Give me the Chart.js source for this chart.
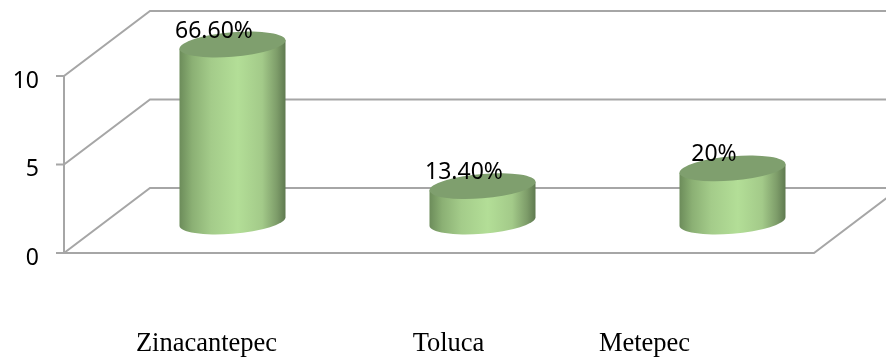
<!DOCTYPE html>
<html>
<head>
<meta charset="utf-8">
<style>
  html, body { margin: 0; padding: 0; background: #fff; }
  #wrap { width: 886px; height: 358px; }
</style>
<script src="https://cdn.jsdelivr.net/npm/chart.js@4"></script>
</head>
<body>
<div id="wrap"><canvas id="chart" width="886" height="358"></canvas></div>
<script>
// Survey responses per municipality
const categories = ['Zinacantepec', 'Toluca', 'Metepec'];
const counts = [10, 2, 3];
const percentLabels = ['66.60%', '13.40%', '20%'];
const yTicks = [0, 5, 10];

// Pseudo-3D projection of the plot box
const DEPTH_X = 86, DEPTH_Y = 65;
const GRID = '#a6a6a6';
const LABEL_SANS = '"Noto Sans", sans-serif';
const CATEGORY_CENTERS = [206.5, 448.5, 644.5];
const CATEGORY_BASELINE = 351;

// Bar drawn as a sheared cylinder standing halfway into the floor
class CylinderElement extends Chart.BarElement {
  draw(ctx) {
    const { x, y, base, width } = this.getProps(['x', 'y', 'base', 'width'], true);
    const a = width / 2, b = 12.2, shear = 0.08;
    const cx = x + DEPTH_X / 2 + 0.5, top = y - DEPTH_Y / 2 + 1, h = base - y;
    ctx.save();
    ctx.transform(1, -shear, 0, 1, cx, top);
    const side = ctx.createLinearGradient(-a, 0, a, 0);
    side.addColorStop(0, '#6c8c5a');
    side.addColorStop(0.12, '#8bb074');
    side.addColorStop(0.3, '#a4cc8a');
    side.addColorStop(0.55, '#b3de97');
    side.addColorStop(0.78, '#a3ca89');
    side.addColorStop(0.92, '#7d9c69');
    side.addColorStop(1, '#5f7a50');
    ctx.beginPath();
    ctx.moveTo(-a, 0);
    ctx.lineTo(-a, h);
    ctx.ellipse(0, h, a, b, 0, Math.PI, 0, true);
    ctx.lineTo(a, 0);
    ctx.closePath();
    ctx.fillStyle = side;
    ctx.fill();
    ctx.beginPath();
    ctx.ellipse(0, 0, a, b, 0, 0, Math.PI * 2);
    ctx.fillStyle = '#7f9f6e';
    ctx.fill();
    ctx.restore();
  }
}
CylinderElement.id = 'cylinder';

class CylinderController extends Chart.BarController {}
CylinderController.id = 'cylinder';
CylinderController.defaults = { ...Chart.BarController.defaults, dataElementType: 'cylinder' };
CylinderController.overrides = Chart.BarController.overrides;

Chart.register(CylinderElement, CylinderController);

// Walls and floor behind the cylinders, placed from the value scale
const boxPlugin = {
  id: 'box',
  beforeDatasetsDraw(chart) {
    const { ctx, chartArea: area, scales: { y } } = chart;
    ctx.save();
    ctx.strokeStyle = GRID;
    ctx.lineWidth = 2;
    ctx.lineJoin = 'miter';
    yTicks.forEach(v => {
      const py = y.getPixelForValue(v);
      ctx.beginPath();
      ctx.moveTo(area.left - 8, py);
      ctx.lineTo(area.left, py);
      ctx.lineTo(area.left + DEPTH_X, py - DEPTH_Y);
      ctx.lineTo(chart.width + 20, py - DEPTH_Y);
      ctx.stroke();
    });
    ctx.beginPath();
    ctx.moveTo(area.left, y.getPixelForValue(yTicks[yTicks.length - 1]));
    ctx.lineTo(area.left, area.bottom);
    ctx.lineTo(area.right, area.bottom);
    ctx.lineTo(area.right + DEPTH_X, area.bottom - DEPTH_Y);
    ctx.stroke();
    ctx.restore();
  },
  afterDatasetsDraw(chart) {
    const { ctx } = chart;
    ctx.save();
    ctx.fillStyle = '#000';
    ctx.textBaseline = 'alphabetic';
    ctx.textAlign = 'center';
    ctx.font = '23px ' + LABEL_SANS;
    chart.getDatasetMeta(0).data.forEach((bar, i) => {
      ctx.fillText(percentLabels[i], bar.x + DEPTH_X / 2 - 18, bar.y - DEPTH_Y / 2 - 6);
    });
    ctx.font = '26.5px "Liberation Serif", serif';
    categories.forEach((name, i) => {
      ctx.fillText(name, CATEGORY_CENTERS[i], CATEGORY_BASELINE);
    });
    ctx.restore();
  }
};

new Chart(document.getElementById('chart'), {
  type: 'cylinder',
  data: {
    labels: categories,
    datasets: [{ data: counts, barPercentage: 0.424, categoryPercentage: 1, clip: false }]
  },
  options: {
    responsive: false,
    animation: false,
    layout: { padding: { left: 0, right: 72, top: 76, bottom: 0 } },
    plugins: { legend: { display: false }, tooltip: { enabled: false } },
    scales: {
      x: {
        type: 'category',
        grid: { display: false },
        border: { display: false },
        ticks: { display: false },
        afterFit: s => { s.height = 105; }
      },
      y: {
        type: 'linear',
        min: 0,
        max: 10,
        afterBuildTicks: s => { s.ticks = yTicks.map(value => ({ value })); },
        grid: { display: false },
        border: { display: false },
        ticks: {
          color: '#000',
          padding: 17,
          labelOffset: 5,
          font: { family: LABEL_SANS, size: 23 }
        },
        afterFit: s => { s.width = 64; }
      }
    }
  },
  plugins: [boxPlugin]
});
</script>
</body>
</html>
